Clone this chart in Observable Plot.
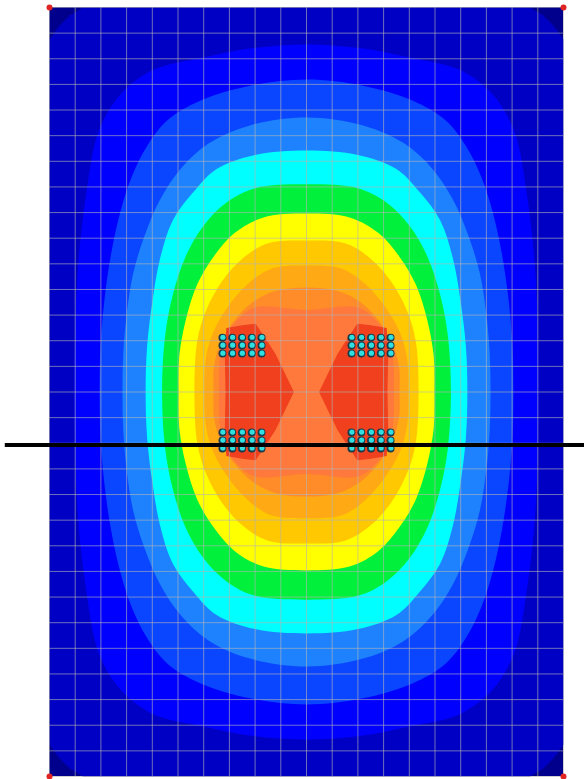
<!DOCTYPE html>
<html><head><meta charset="utf-8">
<script src="https://cdn.jsdelivr.net/npm/d3@7"></script>
<script src="https://cdn.jsdelivr.net/npm/@observablehq/plot@0.6"></script>
<style>html,body{margin:0;padding:0;background:#fff;overflow:hidden}#chart svg{display:block}</style>
</head><body><div id="chart"></div>
<script>
// Plate 20 m x 30 m, 1 m mesh. Contour bands (low -> high)
const bandColors = ["#00008c","#0000c4","#0000ff","#0a46ff","#1e82ff","#00ffff","#00f03c","#ffff00","#ffc800","#ffaa14","#ff8c28","#ff783c","#f0401e"];
// Top-left quarter boundary of each band (x in m from left, y in m from top),
// from the centre row (y=15) to the centre column (x=10)
const band1 = [[0,15],[0,1.25],[0.35,0.75],[0.8,0.3],[1.3,0],[10,0]];
const band2 = [[0.97,15],[1.0,12.5],[1.12,10],[1.3,8.2],[1.5,6.8],[1.7,5.6],[2.0,4.6],[2.75,3.4],[4.0,2.45],[6.0,1.95],[7.8,1.6],[10,1.44]];
const band3 = [[1.95,15],[2.0,13],[2.15,11.3],[2.4,9.6],[2.75,8],[3.2,6.6],[3.8,5.4],[4.58,4.41],[5.88,3.63],[7.8,3.05],[10,2.81]];
const band4 = [[2.84,15],[2.87,13.5],[3.0,12],[3.25,10.4],[3.7,8.9],[4.3,7.5],[5.1,6.3],[6.2,5.3],[7.8,4.6],[10,4.29]];
const band5 = [[3.74,15],[3.8,13.2],[4.0,11.5],[4.3,9.8],[4.8,8.3],[5.6,7.2],[6.5,6.3],[8,5.75],[10,5.58]];
const band6 = [[4.38,15],[4.5,12.8],[4.8,11.2],[5.3,9.7],[6.0,8.5],[6.9,7.6],[8,7.05],[10,6.9]];
const band7 = [[5.02,15],[5.05,13.6],[5.3,12.2],[5.75,10.8],[6.4,9.7],[7.2,8.8],[8.3,8.2],[10,8.04]];
const band8 = [[5.64,15],[5.75,13.0],[6.1,11.8],[6.7,10.7],[7.5,9.8],[8.5,9.2],[10,9.09]];
const band9 = [[6.03,15],[6.1,13.6],[6.4,12.6],[7.0,11.6],[7.7,10.8],[8.6,10.2],[10,10.07]];
const band10 = [[6.38,15],[6.4,14],[6.7,13.0],[7.2,12.2],[7.9,11.5],[8.8,11.05],[10,10.92]];
const band11 = [[6.6,15],[6.62,13.8],[6.8,12.9],[7.3,12.2],[8.0,11.7],[10,11.8]];
// Peak band: left lobe, upper half (from centre row on the left edge round to the waist)
const lobeTop = [[6.85,15],[6.82,13.5],[6.88,12.5],[7.5,12.4],[8.02,12.34],[8.4,12.9],[8.79,13.51],[9.15,14.25],[9.51,15]];

const gridX = [0,1,2,3,4,5,6,7,8,9,10,11,12,13,14,15,16,17,18,19,20];
const gridY = [0,1,2,3,4,5,6,7,8,9,10,11,12,13,14,15,16,17,18,19,20,21,22,23,24,25,26,27,28,29,30];
const cornerX = [0,20,0,20];
const cornerY = [0,0,30,30];
const pileColsLeft = [6.73,7.11,7.49,7.87,8.25];
const pileColsRight = [11.75,12.13,12.51,12.89,13.27];
const pileRowsTop = [12.88,13.19,13.5];
const pileRowsBottom = [16.58,16.89,17.2];
const sectionY = [17.07];
const sectionX = [-1.72, 20.82];

// build closed rings by the plate's two symmetry axes
function ring(q){
  const tr = q.slice().reverse().map(([x,y])=>[20-x,y]).slice(1);
  const br = q.map(([x,y])=>[20-x,30-y]).slice(1);
  const bl = q.slice().reverse().map(([x,y])=>[x,30-y]).slice(1,-1);
  return [...q, ...tr, ...br, ...bl].map(([x,y])=>({x,y}));
}
function lobe(top, right){
  const bottom = top.slice().reverse().map(([x,y])=>[x,30-y]).slice(1,-1);
  return [...top, ...bottom].map(([x,y])=>({x: right ? 20-x : x, y}));
}
const quarters = [band1,band2,band3,band4,band5,band6,band7,band8,band9,band10,band11];
const marks = [];
marks.push(Plot.rect([{x1:0,x2:20,y1:0,y2:30}], {x1:"x1",x2:"x2",y1:"y1",y2:"y2",fill:bandColors[0]}));
quarters.forEach((q,i)=>{
  marks.push(Plot.line(ring(q), {x:"x", y:"y", fill: bandColors[i+1], stroke:"none", curve: i===0 ? "linear-closed" : "catmull-rom-closed"}));
});
marks.push(Plot.line(lobe(lobeTop,false), {x:"x",y:"y",fill:bandColors[12],stroke:"none",curve:"linear-closed"}));
marks.push(Plot.line(lobe(lobeTop,true), {x:"x",y:"y",fill:bandColors[12],stroke:"none",curve:"linear-closed"}));
marks.push(Plot.ruleX(gridX, {x: d=>d, y1: 0, y2: 30, stroke:"#b4b4b4", strokeOpacity:0.62, strokeWidth:1}));
marks.push(Plot.ruleY(gridY, {y: d=>d, x1: 0, x2: 20, stroke:"#b4b4b4", strokeOpacity:0.62, strokeWidth:1}));
const piles = [];
for (const ys of [pileRowsTop, pileRowsBottom]) for (const xs of [pileColsLeft, pileColsRight]) for (const y of ys) for (const x of xs) piles.push({x,y});
marks.push(Plot.dot(piles, {x:"x", y:"y", r:4, fill:"#1a3a4a", stroke:"none"}));
marks.push(Plot.dot(piles, {x:"x", y:"y", r:2.6, dx:0.4, dy:-0.4, fill:"#30e0e0", stroke:"none"}));
marks.push(Plot.ruleY(sectionY, {y: d=>d, x1: sectionX[0], x2: sectionX[1], stroke:"#000", strokeWidth:4}));
marks.push(Plot.dot(cornerX.map((x,i)=>({x, y: cornerY[i]})), {x:"x", y:"y", r:3, fill:"#e02424", stroke:"none"}));

const chart = Plot.plot({
  width: 584, height: 779,
  marginLeft: 49, marginRight: 21, marginTop: 7, marginBottom: 3,
  x: {domain:[0,20], axis:null},
  y: {domain:[0,30], reverse:true, axis:null},
  marks
});
document.getElementById("chart").append(chart);
</script>
</body></html>
